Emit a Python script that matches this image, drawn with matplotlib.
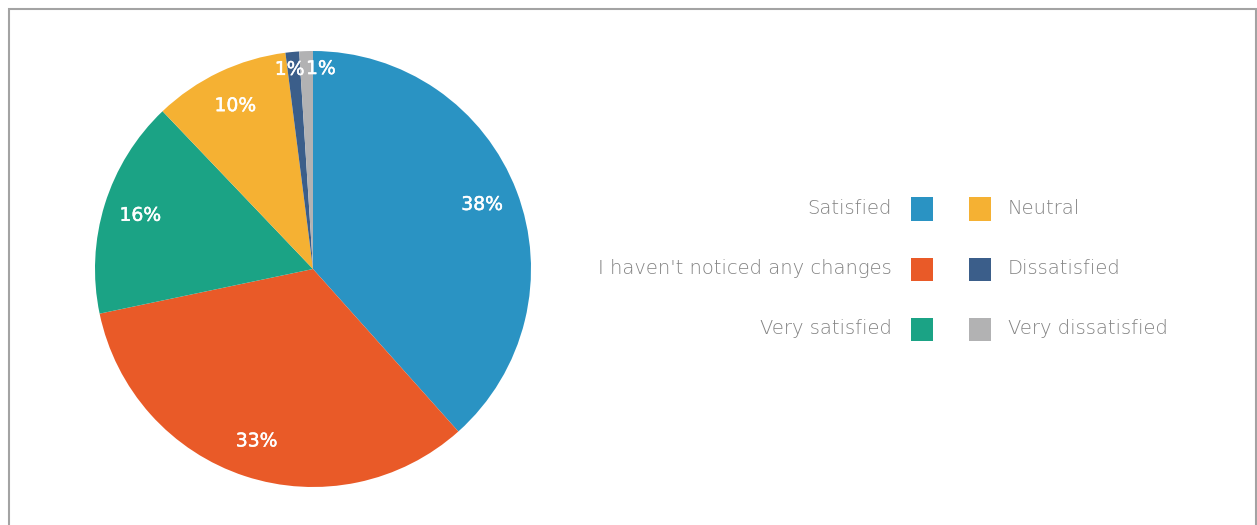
import math
import matplotlib.pyplot as plt
import matplotlib.patheffects as pe
from matplotlib.patches import Rectangle

labels = ["Satisfied", "I haven't noticed any changes", "Very satisfied",
          "Neutral", "Dissatisfied", "Very dissatisfied"]
values = [38, 33, 16, 10, 1, 1]
colors = ["#2A93C3", "#E95A28", "#1BA385", "#F5B133", "#3B5E8A", "#B2B2B3"]

W, H = 1257, 525
fig = plt.figure(figsize=(W / 100, H / 100), dpi=100)

# pie centre (313, 269) px, radius 218 px
cx, cy, r = 313, 269, 218
ax = fig.add_axes([(cx - r) / W, (H - cy - r) / H, 2 * r / W, 2 * r / H])
wedges, texts = ax.pie(values, colors=colors, startangle=90, counterclock=False,
                       radius=1.0, wedgeprops=dict(linewidth=0))
ax.set_xlim(-1, 1)
ax.set_ylim(-1, 1)
ax.set_aspect('equal')
ax.axis('off')

# percentage labels inside the slices
total = sum(values)
start = 90.0
for i, v in enumerate(values):
    span = v / total * 360
    mid = math.radians(start - span / 2)
    start -= span
    dist = 0.92 if v <= 1 else 0.83
    x, y = dist * math.cos(mid), dist * math.sin(mid)
    # the two thin slices sit side by side, spread their labels apart
    if i == len(values) - 2:
        x -= 0.02
    if i == len(values) - 1:
        x += 0.065
    ax.text(x, y, f"{v}%", ha='center', va='center', color='white',
            fontsize=13.5, family='DejaVu Sans',
            path_effects=[pe.withStroke(linewidth=0.35, foreground='white')])

# frame around the chart
fig.patches.append(Rectangle((9 / W, -0.05), (1256 - 9) / W, (H - 9) / H + 0.05,
                             transform=fig.transFigure, fill=False,
                             edgecolor='#A3A3A3', linewidth=1.5))

# legend in two columns
rows = [209, 269, 329]
for i, (lab, col) in enumerate(zip(labels, colors)):
    row = rows[i % 3]
    y = (H - row) / H
    if i < 3:
        px, tx, ha = 911, 892, 'right'
    else:
        px, tx, ha = 969, 1008, 'left'
    fig.patches.append(Rectangle((px / W, (H - row - 11.5) / H), 22 / W, 23 / H,
                                 transform=fig.transFigure, facecolor=col,
                                 edgecolor='none'))
    fig.text(tx / W, y, lab, ha=ha, va='center', color='#828282',
             fontsize=14, family='DejaVu Sans', fontweight='light')

fig.savefig("out.png", dpi=100)
